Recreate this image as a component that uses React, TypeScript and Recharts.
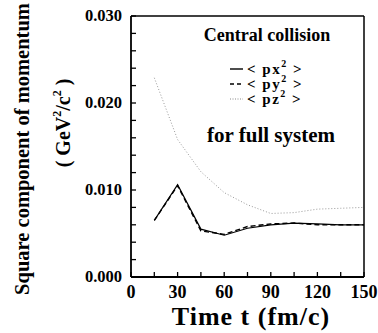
import { LineChart, Line, XAxis, YAxis, ReferenceLine, Label } from "recharts";

const TIMES = [15, 30, 45, 60, 75, 90, 105, 120, 135, 150];
const PX2 = [0.0065, 0.0106, 0.0055, 0.0048, 0.0056, 0.006, 0.0062, 0.0061, 0.006, 0.006];
const PY2 = [0.0065, 0.0105, 0.0053, 0.0049, 0.0058, 0.0061, 0.0062, 0.006, 0.006, 0.006];
const PZ2 = [0.0229, 0.0158, 0.0121, 0.0097, 0.0083, 0.0073, 0.0074, 0.0078, 0.0079, 0.008];

const X_TICKS = [0, 15, 30, 45, 60, 75, 90, 105, 120, 135, 150];
const Y_TICKS = [
  0, 0.002, 0.004, 0.006, 0.008, 0.01, 0.012, 0.014, 0.016, 0.018, 0.02,
  0.022, 0.024, 0.026, 0.028, 0.03,
];

const FONT = '"Liberation Serif", "Times New Roman", serif';

const data = TIMES.map((t, i) => ({ t, px: PX2[i], py: PY2[i], pz: PZ2[i] }));

function XTick({ x, y, payload }: any) {
  const major = payload.value % 30 === 0;
  return (
    <g>
      <line x1={x} x2={x} y1={y} y2={y - 5} stroke="#000" strokeWidth={1.3} />
      {major && (
        <text x={x} y={y + 21} textAnchor="middle" fontSize={18} fontWeight="bold" fontFamily={FONT} fill="#000">
          {payload.value}
        </text>
      )}
    </g>
  );
}

function YTick({ x, y, payload }: any) {
  const major = Math.round(payload.value * 1000) % 10 === 0;
  return (
    <g>
      <line x1={x} x2={x + 5} y1={y} y2={y} stroke="#000" strokeWidth={1.3} />
      {major && (
        <text x={x - 9} y={y + 5} textAnchor="end" fontSize={16.5} fontWeight="bold" fontFamily={FONT} fill="#000">
          {payload.value.toFixed(3)}
        </text>
      )}
    </g>
  );
}

function XTitle({ viewBox }: any) {
  return (
    <text x={viewBox.x + 120} y={viewBox.y + 48} textAnchor="middle" fontSize={26} letterSpacing={1} fontWeight="bold" fontFamily={FONT} fill="#000">
      Time t (fm/c)
    </text>
  );
}

function YTitle({ viewBox }: any) {
  const cy = viewBox.y + 133;
  return (
    <g>
      <text x={22} y={cy} transform={`rotate(-90 22 ${cy})`} textAnchor="middle" dominantBaseline="central" fontSize={20.5} fontWeight="bold" fontFamily={FONT} fill="#000">
        Square component of momentum
      </text>
      <text x={63} y={123} transform="rotate(-90 63 123)" textAnchor="middle" dominantBaseline="central" fontSize={20} fontWeight="bold" fontFamily={FONT} fill="#000">
        ( GeV
        <tspan dy={-6} fontSize={12}>2</tspan>
        <tspan dy={6}>/c</tspan>
        <tspan dy={-6} fontSize={12}>2</tspan>
        <tspan dy={6}> )</tspan>
      </text>
    </g>
  );
}

function Annotation() {
  const rows = [
    { name: "px", dash: undefined, color: "#000", width: 1.4, y: 69 },
    { name: "py", dash: "4 3", color: "#000", width: 1.6, y: 84 },
    { name: "pz", dash: "1 1.5", color: "#888", width: 1, y: 99 },
  ];
  return (
    <svg width={378} height={333} style={{ position: "absolute", left: 0, top: 0, pointerEvents: "none", fontFamily: FONT }}>
      <text x={267} y={41} textAnchor="middle" fontSize={18} fontWeight="bold" fontFamily={FONT}>Central collision</text>
      {rows.map((r) => (
        <g key={r.name}>
          <line x1={230} x2={243} y1={r.y} y2={r.y} stroke={r.color} strokeWidth={r.width} strokeDasharray={r.dash} />
          <text x={247} y={r.y + 5} fontSize={15} letterSpacing={1.5} fontWeight="bold" fontFamily={FONT}>
            {"< "}{r.name}
            <tspan dy={-7} fontSize={10}>2</tspan>
            <tspan dy={7}>{" >"}</tspan>
          </text>
        </g>
      ))}
      <text x={271} y={142} textAnchor="middle" fontSize={21} fontWeight="bold" fontFamily={FONT}>for full system</text>
    </svg>
  );
}

export default function App() {
  return (
    <div style={{ position: "absolute", left: 0, top: 0, width: 378, height: 333, background: "#fff" }}>
      <LineChart width={378} height={333} data={data} margin={{ top: 16, right: 14, bottom: 0, left: 0 }}>
        <XAxis
          type="number"
          dataKey="t"
          domain={[0, 150]}
          ticks={X_TICKS}
          interval={0}
          height={56}
          tickSize={0}
          tickMargin={0}
          tick={<XTick />}
          axisLine={{ stroke: "#000", strokeWidth: 1.8 }}
        >
          <Label content={<XTitle />} />
        </XAxis>
        <YAxis
          type="number"
          domain={[0, 0.03]}
          ticks={Y_TICKS}
          interval={0}
          width={131}
          tickSize={0}
          tickMargin={0}
          tick={<YTick />}
          axisLine={{ stroke: "#000", strokeWidth: 1.8 }}
        >
          <Label content={<YTitle />} />
        </YAxis>
        <ReferenceLine y={0.03} stroke="#000" strokeWidth={1.5} />
        <ReferenceLine x={150} stroke="#000" strokeWidth={1.5} />
        <Line dataKey="pz" stroke="#999" strokeWidth={1} strokeDasharray="1 2" dot={false} isAnimationActive={false} />
        <Line dataKey="py" stroke="#000" strokeWidth={1.4} strokeDasharray="5 3" dot={false} isAnimationActive={false} />
        <Line dataKey="px" stroke="#000" strokeWidth={1.2} dot={false} isAnimationActive={false} />
      </LineChart>
      <Annotation />
    </div>
  );
}
